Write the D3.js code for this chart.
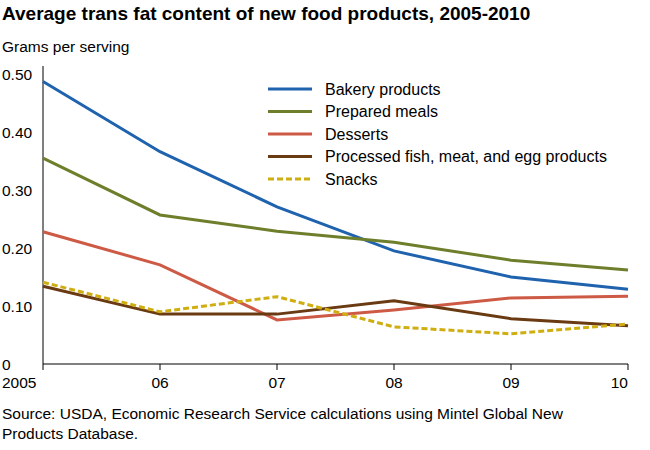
<!DOCTYPE html><html><head><meta charset="utf-8"><script src="https://cdn.jsdelivr.net/npm/d3@7"></script>
<style>body{margin:0;background:#fff}text{font-family:"Liberation Sans",Arial,sans-serif}</style></head><body>
<svg id="c" width="650" height="450"></svg>
<script>
const years=["2005","06","07","08","09","10"];
const yTicks=[0,0.1,0.2,0.3,0.4,0.5];
const bakery=[0.487,0.366,0.271,0.195,0.150,0.129];
const prepared=[0.355,0.257,0.229,0.210,0.179,0.162];
const desserts=[0.228,0.171,0.076,0.093,0.114,0.117];
const processed=[0.134,0.086,0.086,0.109,0.078,0.066];
const snacks=[0.141,0.090,0.116,0.064,0.052,0.069];
const series=[
 {name:"Bakery products",v:bakery,c:"#1f63ae",d:null},
 {name:"Prepared meals",v:prepared,c:"#6e7f2c",d:null},
 {name:"Desserts",v:desserts,c:"#cd5a45",d:null},
 {name:"Processed fish, meat, and egg products",v:processed,c:"#6a3a12",d:null},
 {name:"Snacks",v:snacks,c:"#cfae12",d:"6,3"}];
const svg=d3.select("#c");
svg.append("text").attr("x",2).attr("y",20).attr("font-size",19).attr("font-weight","bold").text("Average trans fat content of new food products, 2005-2010");
svg.append("text").attr("x",2).attr("y",52).attr("font-size",15.5).text("Grams per serving");
const x=d3.scalePoint().domain(years).range([43,628]);
const y=d3.scaleLinear().domain([0,0.5]).range([364,74]);
const fmt=d=>d===0?"0":d.toFixed(2);
yTicks.forEach(t=>svg.append("text").attr("x",2).attr("y",y(t)+6).attr("font-size",15.5).text(fmt(t)));
svg.append("line").attr("x1",43).attr("x2",43).attr("y1",66).attr("y2",364).attr("stroke","#000");
svg.append("line").attr("x1",43).attr("x2",628).attr("y1",364).attr("y2",364).attr("stroke","#000");
years.forEach(yr=>{svg.append("line").attr("x1",x(yr)).attr("x2",x(yr)).attr("y1",364).attr("y2",370).attr("stroke","#000");
 svg.append("text").attr("x",yr==="2005"?2:x(yr)).attr("y",388).attr("font-size",15.5).attr("text-anchor",yr==="10"?"end":yr==="2005"?"start":"middle").text(yr);});
const line=d3.line().x((d,i)=>x(years[i])).y(d=>y(d));
series.forEach((s,i)=>{
 svg.append("path").attr("d",line(s.v)).attr("fill","none").attr("stroke",s.c).attr("stroke-width",3).attr("stroke-dasharray",s.d);
 const ly=89+i*22.5;
 svg.append("line").attr("x1",268).attr("x2",312).attr("y1",ly).attr("y2",ly).attr("stroke",s.c).attr("stroke-width",3).attr("stroke-dasharray",s.d);
 svg.append("text").attr("x",325).attr("y",ly+5.5).attr("font-size",16).text(s.name);});
svg.append("text").attr("x",2).attr("y",419).attr("font-size",15.5).text("Source: USDA, Economic Research Service calculations using Mintel Global New");
svg.append("text").attr("x",2).attr("y",439).attr("font-size",15.5).text("Products Database.");
</script></body></html>
